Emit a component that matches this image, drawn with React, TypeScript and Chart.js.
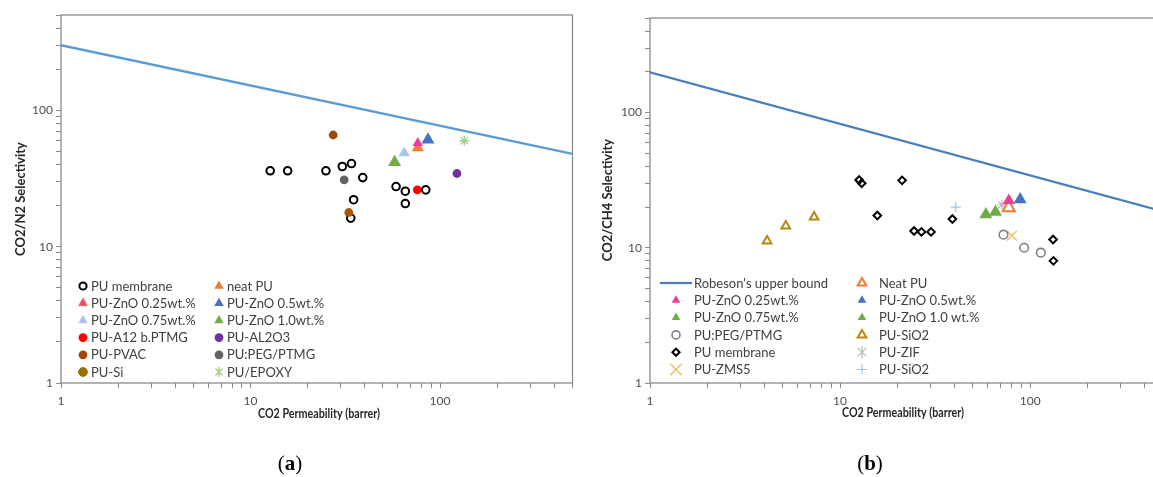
import React, { useEffect, useRef } from 'react';
import { Chart, registerables } from 'chart.js';

Chart.register(...registerables);

// ---------- axes ----------
const axisMin = 1;
const axisMax = 500;
const tickValues = [1, 2, 3, 4, 5, 6, 7, 8, 9, 10, 20, 30, 40, 50, 60, 70, 80, 90, 100, 200, 300, 400, 500];
const tickLabels = ['1', '10', '100'];

// ---------- CO2/N2 panel (a) ----------
const n2MembraneP = [12.7, 15.7, 25.0, 30.5, 34.1, 39.1, 35.0, 33.8, 58.6, 65.6, 65.6, 84.1];
const n2MembraneS = [36.0, 36.0, 36.0, 38.7, 40.7, 32.1, 22.1, 16.2, 27.6, 25.5, 20.7, 26.1];
const n2NeatP = [76.3];
const n2NeatS = [53.2];
const n2Zn025P = [76.3];
const n2Zn025S = [57.5];
const n2Zn05P = [86.4];
const n2Zn05S = [60.8];
const n2Zn075P = [64.7];
const n2Zn075S = [48.6];
const n2Zn10P = [57.6];
const n2Zn10S = [41.6];
const n2A12P = [75.9];
const n2A12S = [26.1];
const n2Al2o3P = [122.8];
const n2Al2o3S = [34.4];
const n2PvacP = [27.3];
const n2PvacS = [65.9];
const n2PegP = [31.2];
const n2PegS = [30.9];
const n2SiP = [33.0];
const n2SiS = [17.8];
const n2EpoxyP = [134.3];
const n2EpoxyS = [59.8];
const n2BoundP = [1, 500];
const n2BoundS = [300, 48];

// ---------- CO2/CH4 panel (b) ----------
const ch4BoundP = [1, 500];
const ch4BoundS = [198, 18.6];
const ch4Zn025P = [77.2];
const ch4Zn025S = [22.4];
const ch4Zn075P = [58.5];
const ch4Zn075S = [17.6];
const ch4PegP = [72.4, 93.0, 113.8];
const ch4PegS = [12.5, 10.0, 9.2];
const ch4MembraneP = [12.6, 13.0, 21.2, 15.7, 24.5, 26.8, 30.1, 39.0, 132.0, 132.5];
const ch4MembraneS = [31.7, 30.0, 31.5, 17.3, 13.3, 13.1, 13.1, 16.3, 11.5, 8.0];
const ch4Zms5P = [80.1];
const ch4Zms5S = [12.3];
const ch4NeatP = [77.2];
const ch4NeatS = [19.8];
const ch4Zn05P = [88.6];
const ch4Zn05S = [22.7];
const ch4Zn10P = [65.7];
const ch4Zn10S = [18.4];
const ch4SiO2TriP = [4.13, 5.18, 7.3];
const ch4SiO2TriS = [11.2, 14.5, 16.9];
const ch4ZifP = [71.0];
const ch4ZifS = [20.8];
const ch4SiO2PlusP = [40.6];
const ch4SiO2PlusS = [20.0];

const pts = (xs: number[], ys: number[]) => xs.map((x, i) => ({ x, y: ys[i] }));

interface SeriesDef {
  label: string;
  x: number[];
  y: number[];
  style: string;
  radius: number;
  fill: string;
  stroke: string;
  width: number;
  legendRadius: number;
  legendFill?: string;
  legendStroke?: string;
  z?: number;
  line?: boolean;
}

const none = 'rgba(0,0,0,0)';

const n2Series: SeriesDef[] = [
  { label: 'PU membrane', x: n2MembraneP, y: n2MembraneS, style: 'circle', radius: 3.8, fill: none, stroke: '#000000', width: 2, legendRadius: 3.6, z: 3 },
  { label: 'neat PU', x: n2NeatP, y: n2NeatS, style: 'triangle', radius: 7, fill: '#ED7D31', stroke: '#ED7D31', width: 0, legendRadius: 5.5, z: 1 },
  { label: 'PU-ZnO 0.25wt.%', x: n2Zn025P, y: n2Zn025S, style: 'triangle', radius: 6, fill: '#F23A9B', stroke: '#F23A9B', width: 0, legendRadius: 5, legendStroke: '#ED7D31', z: 2 },
  { label: 'PU-ZnO 0.5wt.%', x: n2Zn05P, y: n2Zn05S, style: 'triangle', radius: 7.5, fill: '#4472C4', stroke: '#4472C4', width: 0, legendRadius: 5.5 },
  { label: 'PU-ZnO 0.75wt.%', x: n2Zn075P, y: n2Zn075S, style: 'triangle', radius: 6.5, fill: '#A9C4EB', stroke: '#A9C4EB', width: 0, legendRadius: 5.5 },
  { label: 'PU-ZnO 1.0wt.%', x: n2Zn10P, y: n2Zn10S, style: 'triangle', radius: 7.5, fill: '#70AD47', stroke: '#70AD47', width: 0, legendRadius: 5.5 },
  { label: 'PU-A12 b.PTMG', x: n2A12P, y: n2A12S, style: 'circle', radius: 4.4, fill: '#FF0000', stroke: '#FF0000', width: 0, legendRadius: 4.4, z: 1 },
  { label: 'PU-AL2O3', x: n2Al2o3P, y: n2Al2o3S, style: 'circle', radius: 4.4, fill: '#7030A0', stroke: '#7030A0', width: 0, legendRadius: 4.4 },
  { label: 'PU-PVAC', x: n2PvacP, y: n2PvacS, style: 'circle', radius: 4.4, fill: '#9E480E', stroke: '#9E480E', width: 0, legendRadius: 4.4 },
  { label: 'PU:PEG/PTMG', x: n2PegP, y: n2PegS, style: 'circle', radius: 4.4, fill: '#636363', stroke: '#636363', width: 0, legendRadius: 4.4 },
  { label: 'PU-Si', x: n2SiP, y: n2SiS, style: 'circle', radius: 4.4, fill: '#A5590F', stroke: '#A5590F', width: 0, legendRadius: 4.4, legendFill: '#997300', legendStroke: '#997300', z: 4 },
  { label: 'PU/EPOXY', x: n2EpoxyP, y: n2EpoxyS, style: 'star', radius: 5, fill: none, stroke: '#A9D18E', width: 1.5, legendRadius: 5 },
  { label: 'Upper bound', x: n2BoundP, y: n2BoundS, style: 'line', radius: 0, fill: '#5B9BD5', stroke: '#5B9BD5', width: 2.3, legendRadius: 0, line: true },
];

const n2LegendCols = [
  ['PU membrane', 'PU-ZnO 0.25wt.%', 'PU-ZnO 0.75wt.%', 'PU-A12 b.PTMG', 'PU-PVAC', 'PU-Si'],
  ['neat PU', 'PU-ZnO 0.5wt.%', 'PU-ZnO 1.0wt.%', 'PU-AL2O3', 'PU:PEG/PTMG', 'PU/EPOXY'],
];

const ch4Series: SeriesDef[] = [
  { label: "Robeson's upper bound", x: ch4BoundP, y: ch4BoundS, style: 'line', radius: 0, fill: '#4A7EBB', stroke: '#4A7EBB', width: 2.2, legendRadius: 16, line: true },
  { label: 'PU-ZnO 0.25wt.%', x: ch4Zn025P, y: ch4Zn025S, style: 'triangle', radius: 7, fill: '#F23A9B', stroke: '#F23A9B', width: 0, legendRadius: 5, z: 2 },
  { label: 'PU-ZnO 0.75wt.%', x: ch4Zn075P, y: ch4Zn075S, style: 'triangle', radius: 7.5, fill: '#70AD47', stroke: '#70AD47', width: 0, legendRadius: 5 },
  { label: 'PU:PEG/PTMG', x: ch4PegP, y: ch4PegS, style: 'circle', radius: 4.3, fill: none, stroke: '#808080', width: 1.6, legendRadius: 4, z: 1 },
  { label: 'PU membrane', x: ch4MembraneP, y: ch4MembraneS, style: 'rectRot', radius: 3.8, fill: none, stroke: '#000000', width: 2, legendRadius: 3.6, z: 1 },
  { label: 'PU-ZMS5', x: ch4Zms5P, y: ch4Zms5S, style: 'crossRot', radius: 7, fill: none, stroke: '#F3BE6B', width: 1.4, legendRadius: 8 },
  { label: 'Neat PU', x: ch4NeatP, y: ch4NeatS, style: 'triangle', radius: 7, fill: none, stroke: '#ED7D31', width: 2, legendRadius: 5 },
  { label: 'PU-ZnO 0.5wt.%', x: ch4Zn05P, y: ch4Zn05S, style: 'triangle', radius: 7.5, fill: '#4472C4', stroke: '#4472C4', width: 0, legendRadius: 5 },
  { label: 'PU-ZnO 1.0 wt.%', x: ch4Zn10P, y: ch4Zn10S, style: 'triangle', radius: 7.5, fill: '#70AD47', stroke: '#70AD47', width: 0, legendRadius: 5 },
  { label: 'PU-SiO2', x: ch4SiO2TriP, y: ch4SiO2TriS, style: 'triangle', radius: 5, fill: none, stroke: '#B8870F', width: 2, legendRadius: 5 },
  { label: 'PU-ZIF', x: ch4ZifP, y: ch4ZifS, style: 'star', radius: 5, fill: none, stroke: '#BDBDBD', width: 1.2, legendRadius: 6 },
  { label: 'PU-SiO2 ', x: ch4SiO2PlusP, y: ch4SiO2PlusS, style: 'cross', radius: 5, fill: none, stroke: '#9DC3E6', width: 1.2, legendRadius: 5 },
];

const ch4LegendCols = [
  ["Robeson's upper bound", 'PU-ZnO 0.25wt.%', 'PU-ZnO 0.75wt.%', 'PU:PEG/PTMG', 'PU membrane', 'PU-ZMS5'],
  ['Neat PU', 'PU-ZnO 0.5wt.%', 'PU-ZnO 1.0 wt.%', 'PU-SiO2', 'PU-ZIF', 'PU-SiO2 '],
];

// Draws one marker shape for the legend (same geometry as Chart.js point styles).
function drawMarker(ctx: CanvasRenderingContext2D, s: SeriesDef, x: number, y: number) {
  const r = s.legendRadius;
  const fill = s.legendFill ?? s.fill;
  const stroke = s.legendStroke ?? s.stroke;
  ctx.save();
  ctx.beginPath();
  ctx.lineWidth = s.width || 1;
  ctx.fillStyle = fill;
  ctx.strokeStyle = stroke;
  const d = r * Math.SQRT1_2;
  let filled = true;
  switch (s.style) {
    case 'circle':
      ctx.arc(x, y, r, 0, Math.PI * 2);
      break;
    case 'triangle':
      ctx.moveTo(x, y - r);
      ctx.lineTo(x + r * 0.866, y + r * 0.5);
      ctx.lineTo(x - r * 0.866, y + r * 0.5);
      ctx.closePath();
      break;
    case 'rectRot':
      ctx.moveTo(x, y - r);
      ctx.lineTo(x + r, y);
      ctx.lineTo(x, y + r);
      ctx.lineTo(x - r, y);
      ctx.closePath();
      break;
    case 'cross':
      filled = false;
      ctx.moveTo(x, y - r); ctx.lineTo(x, y + r);
      ctx.moveTo(x - r, y); ctx.lineTo(x + r, y);
      break;
    case 'crossRot':
      filled = false;
      ctx.moveTo(x - d, y - d); ctx.lineTo(x + d, y + d);
      ctx.moveTo(x - d, y + d); ctx.lineTo(x + d, y - d);
      break;
    case 'star':
      filled = false;
      ctx.moveTo(x, y - r); ctx.lineTo(x, y + r);
      ctx.moveTo(x - d, y - d); ctx.lineTo(x + d, y + d);
      ctx.moveTo(x - d, y + d); ctx.lineTo(x + d, y - d);
      break;
    case 'line':
      filled = false;
      ctx.lineWidth = s.width;
      ctx.moveTo(x - r, y); ctx.lineTo(x + r, y);
      break;
  }
  if (filled) ctx.fill();
  if (!filled || s.width > 0 || s.legendStroke) {
    if (filled && !s.width) ctx.lineWidth = 1;
    ctx.stroke();
  }
  ctx.restore();
}

interface PanelLayout {
  canvasWidth: number;
  top: number;
  right: number;
  yAxisWidth: number;
  xTitle: string;
  yTitle: string;
  xTitlePos: [number, number, number];
  yTitlePos: [number, number, number];
  markerX: [number, number];
  textX: [number, number];
  rowY0: number;
  rowDy: number;
  legendCols: string[][];
}

const labelFont = 'Lato, "Open Sans", sans-serif';

const decorPlugin = {
  id: 'decor',
  beforeDatasetsDraw(chart: any) {
    const { ctx, chartArea: a } = chart;
    ctx.save();
    ctx.strokeStyle = '#8A8A8A';
    ctx.lineWidth = 1.3;
    ctx.strokeRect(a.left, a.top, a.right - a.left, a.bottom - a.top);
    ctx.restore();
  },
  afterDraw(chart: any, _args: any, opts: any) {
    const ctx: CanvasRenderingContext2D = chart.ctx;
    const L: PanelLayout = opts.layout;
    const series: SeriesDef[] = opts.series;
    ctx.save();
    // axis titles
    ctx.fillStyle = '#262626';
    ctx.font = `bold 13px ${labelFont}`;
    ctx.textAlign = 'center';
    ctx.textBaseline = 'middle';
    ctx.fillText(L.xTitle, L.xTitlePos[0], L.xTitlePos[1], L.xTitlePos[2]);
    ctx.save();
    ctx.translate(L.yTitlePos[0], L.yTitlePos[1]);
    ctx.rotate(-Math.PI / 2);
    ctx.fillText(L.yTitle, 0, 0, L.yTitlePos[2]);
    ctx.restore();
    // legend
    ctx.font = `13px ${labelFont}`;
    ctx.textAlign = 'left';
    ctx.fillStyle = '#404040';
    L.legendCols.forEach((col, ci) => {
      col.forEach((label, ri) => {
        const s = series.find((d) => d.label === label);
        if (!s) return;
        const y = L.rowY0 + ri * L.rowDy;
        drawMarker(ctx, s, L.markerX[ci], y);
        ctx.fillStyle = '#404040';
        ctx.fillText(label.trim(), L.textX[ci], y + 0.5);
      });
    });
    ctx.restore();
  },
};

function buildConfig(series: SeriesDef[], L: PanelLayout): any {
  const datasets = series.map((s) =>
    s.line
      ? {
          label: s.label,
          data: pts(s.x, s.y),
          showLine: true,
          borderColor: s.stroke,
          borderWidth: s.width,
          pointRadius: 0,
          fill: false,
          order: 100,
        }
      : {
          label: s.label,
          data: pts(s.x, s.y),
          pointStyle: s.style,
          pointRadius: s.radius,
          backgroundColor: s.fill,
          borderColor: s.stroke,
          pointBorderWidth: s.width,
          borderWidth: s.width,
          order: -(s.z ?? 0),
        }
  );
  const tickCfg = {
    autoSkip: false,
    maxRotation: 0,
    color: '#505050',
    font: { family: labelFont, size: 12 },
    callback: (v: number) => (tickLabels.includes(String(v)) ? String(v) : ''),
  };
  const gridCfg = { display: true, drawOnChartArea: false, drawTicks: true, tickLength: 5, color: '#8A8A8A', lineWidth: 1 };
  const setTicks = (scale: any) => {
    scale.ticks = tickValues.map((value) => ({ value }));
  };
  return {
    type: 'scatter',
    data: { datasets },
    options: {
      responsive: false,
      animation: false,
      events: [],
      layout: { padding: { left: 0, top: L.top, right: L.right, bottom: 0 } },
      plugins: {
        legend: { display: false },
        tooltip: { enabled: false },
        decor: { layout: L, series },
      },
      scales: {
        x: {
          type: 'logarithmic',
          min: axisMin,
          max: axisMax,
          afterBuildTicks: setTicks,
          afterFit: (s: any) => { s.height = 94; },
          ticks: { ...tickCfg, padding: 6 },
          grid: gridCfg,
          border: { display: false },
        },
        y: {
          type: 'logarithmic',
          min: axisMin,
          max: axisMax,
          afterBuildTicks: setTicks,
          afterFit: (s: any) => { s.width = L.yAxisWidth; },
          ticks: { ...tickCfg, padding: 3 },
          grid: gridCfg,
          border: { display: false },
        },
      },
    },
    plugins: [decorPlugin],
  };
}

const n2Layout: PanelLayout = {
  canvasWidth: 580,
  top: 15,
  right: 3,
  yAxisWidth: 61,
  xTitle: 'CO2 Permeability (barrer)',
  yTitle: 'CO2/N2 Selectivity',
  xTitlePos: [319, 414, 122],
  yTitlePos: [21, 199, 114],
  markerX: [83, 219],
  textX: [91, 227],
  rowY0: 286,
  rowDy: 17.2,
  legendCols: n2LegendCols,
};

const ch4Layout: PanelLayout = {
  canvasWidth: 600,
  top: 18,
  right: 17,
  yAxisWidth: 70,
  xTitle: 'CO2 Permeability (barrer)',
  yTitle: 'CO2/CH4 Selectivity',
  xTitlePos: [323, 413, 122],
  yTitlePos: [28, 200, 126],
  markerX: [96, 282],
  textX: [114, 299],
  rowY0: 283,
  rowDy: 17.3,
  legendCols: ch4LegendCols,
};

function Panel({ series, layout, left }: { series: SeriesDef[]; layout: PanelLayout; left: number }) {
  const ref = useRef<HTMLCanvasElement>(null);
  useEffect(() => {
    const chart = new Chart(ref.current as HTMLCanvasElement, buildConfig(series, layout));
    return () => chart.destroy();
  }, [series, layout]);
  return (
    <canvas
      ref={ref}
      width={layout.canvasWidth}
      height={477}
      style={{ position: 'absolute', left, top: 0, width: layout.canvasWidth, height: 477 }}
    />
  );
}

const captionStyle: React.CSSProperties = {
  position: 'absolute',
  top: 450,
  width: 80,
  textAlign: 'center',
  fontFamily: '"Liberation Serif", "DejaVu Serif", serif',
  fontSize: 21,
  color: '#000',
  lineHeight: '26px',
};

export default function App() {
  return (
    <div
      style={{
        position: 'fixed',
        left: 0,
        top: 0,
        width: 1153,
        height: 477,
        overflow: 'hidden',
        background: '#ffffff',
      }}
    >
      <Panel series={n2Series} layout={n2Layout} left={0} />
      <Panel series={ch4Series} layout={ch4Layout} left={580} />
      <div style={{ ...captionStyle, left: 250 }}>
        (<b>a</b>)
      </div>
      <div style={{ ...captionStyle, left: 830 }}>
        (<b>b</b>)
      </div>
    </div>
  );
}
